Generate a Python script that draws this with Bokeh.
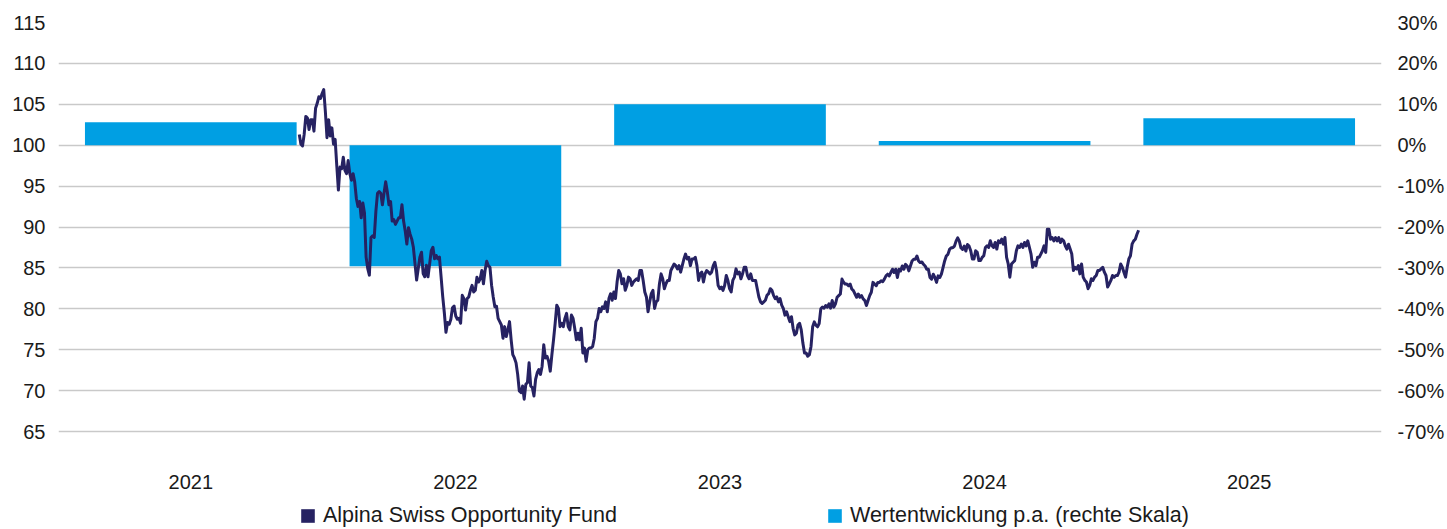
import numpy as np
from bokeh.plotting import figure
from bokeh.models import (Range1d, LinearAxis, FixedTicker, PrintfTickFormatter,
                          Legend, LegendItem)
from bokeh.core.properties import value
from bokeh.embed import file_html
from bokeh.resources import INLINE

# ---------------- data ----------------
years = ["2021", "2022", "2023", "2024", "2025"]
annual_return_pct = [5.6, -29.6, 10.0, 1.0, 6.6]

# position of the first / last fund observation on the year axis (category units)
fund_start_pos = 0.41
fund_end_pos = 3.582

fund_2021_22 = [101.32, 100.12, 99.92, 101.32, 103.52, 103.32, 101.92, 103.12, 103.12, 101.72,
                104.52, 105.12, 105.92, 105.72, 106.32, 106.8, 104.12, 100.92, 103.12, 101.12,
                102.12, 100.12, 100.72, 97.52, 94.52, 97.32, 97.12, 98.52, 96.92, 96.52,
                98.12, 96.52, 95.72, 96.52, 95.52, 93.52, 92.52, 93.12, 91.12, 92.92,
                91.72, 86.32, 84.92, 84.12, 88.72, 88.92, 88.72, 91.92, 94.12, 94.32,
                94.12, 92.72, 94.12, 95.52, 94.32, 92.72, 93.12, 90.72, 90.92, 90.32,
                90.72, 91.12, 91.12, 92.72, 90.72, 89.52, 87.92, 89.92, 89.12, 88.52,
                87.52, 85.52, 83.52, 84.92, 86.32, 86.92, 84.32, 83.92, 85.32, 83.92,
                85.52, 87.12, 87.52, 86.12, 86.52, 86.12, 86.32, 83.92, 81.52, 79.52,
                77.12, 78.32, 78.12, 78.72, 80.12, 80.32, 79.12, 78.72]
fund_2022 = [78.83, 78.23, 81.65, 81.25, 79.84, 81.25, 81.45, 82.26, 82.86, 82.06,
             82.26, 83.87, 83.27, 83.67, 84.68, 83.06, 84.68, 85.81, 85.28, 85.08,
             82.86, 81.45, 80.24, 80.32, 78.83, 78.43, 78.02, 76.41, 77.82, 76.61,
             77.42, 78.43, 76.21, 74.40, 73.99, 73.39, 71.98, 69.96, 69.76, 70.56,
             68.95, 70.77, 70.97, 73.39, 70.56, 70.36, 69.35, 71.37, 72.18, 72.58,
             71.98, 72.98, 75.60, 73.99, 74.19, 73.59, 72.38, 74.40, 76.21, 78.23,
             80.44, 80.04, 77.82, 78.23, 77.82, 78.83, 79.44, 77.82, 77.42, 79.23,
             78.83, 77.62, 76.21, 77.02, 76.21, 77.62, 74.60, 75.20, 73.59, 75.00,
             75.20, 75.20, 75.40, 76.41, 78.43, 78.83, 80.04, 79.64, 80.24, 80.04,
             80.85, 79.64, 81.25, 81.85, 81.05, 82.06, 81.25, 83.27, 84.68, 84.27,
             83.06, 83.67, 82.26, 82.86]
fund_2023 = [83.87, 83.67, 82.86, 83.27, 83.47, 83.67, 83.47, 84.68, 84.68, 83.47,
             82.06, 81.45, 79.64, 80.85, 81.85, 82.26, 80.04, 80.85, 81.05, 83.06,
             84.27, 83.67, 82.46, 83.06, 83.47, 83.47, 84.68, 85.08, 85.48, 85.28,
             84.88, 85.28, 84.48, 85.28, 86.09, 86.69, 86.09, 86.29, 85.28, 86.09,
             86.09, 86.29, 85.28, 83.47, 84.27, 84.48, 83.27, 84.27, 84.68, 84.48,
             84.27, 84.48, 85.28, 85.69, 84.68, 82.86, 82.46, 82.66, 82.26, 82.86,
             84.07, 83.47, 82.46, 82.06, 83.47, 83.87, 84.88, 84.27, 84.48, 83.67,
             84.27, 85.08, 85.08, 84.07, 83.67, 84.27, 83.47, 83.47, 83.47, 82.46,
             81.45, 80.85, 80.65, 80.85, 81.05, 81.65, 81.85, 82.46, 82.26, 81.65,
             81.25, 81.45, 80.85, 81.25, 80.44, 80.04, 79.23, 79.64, 79.03, 78.43,
             79.03, 77.62, 76.81, 77.02, 78.02, 78.23, 77.42, 75.81, 74.60, 74.60,
             74.2, 74.4, 75.4, 77.8, 78.4, 78.0, 77.8, 78.2]
fund_2023_24 = [80.0, 80.20, 80.08, 80.40, 80.20, 80.60, 80.08, 81.01, 80.20, 80.60,
                81.41, 81.61, 81.81, 83.63, 83.23, 83.02, 83.02, 82.82, 83.02, 82.42,
                82.22, 81.81, 81.41, 81.81, 81.41, 81.61, 81.21, 81.01, 80.40, 81.01,
                81.61, 82.02, 83.23, 83.02, 82.82, 83.23, 83.23, 83.43, 83.31, 83.63,
                84.03, 84.23, 84.03, 84.44, 84.84, 84.44, 84.84, 83.83, 84.84, 84.64,
                85.24, 84.84, 85.44, 85.24, 84.64, 85.24, 85.85, 86.05, 86.05, 86.45,
                85.85, 85.65, 85.73, 85.44, 85.24, 84.84, 84.84, 83.83, 83.63, 84.23,
                83.83, 83.23, 84.03, 83.83, 84.23, 85.04, 85.85, 86.45, 86.65, 87.26,
                87.46, 87.46, 87.66, 88.27, 88.67, 88.27, 87.46, 87.26, 87.66, 87.06,
                87.86, 87.66]
fund_2024 = [87.10, 86.09, 86.09, 87.10, 86.90, 85.89, 85.89, 86.29, 86.49, 87.50,
             87.70, 87.50, 88.31, 87.70, 87.50, 88.10, 87.30, 88.31, 88.10, 88.51,
             87.90, 88.71, 86.29, 85.48, 83.87, 85.48, 85.69, 85.89, 87.10, 87.70,
             87.50, 87.90, 87.50, 88.10, 87.70, 88.31, 87.50, 86.69, 85.08, 85.69,
             85.28, 86.29, 86.29, 86.69, 87.10, 87.70, 86.90, 89.72, 89.72, 88.51,
             88.71, 88.31, 88.71, 88.31, 88.71, 88.10, 88.51, 88.31, 87.70, 87.30,
             87.90, 87.30, 86.69, 84.68, 85.08, 84.88, 85.28, 84.27, 85.48, 83.87,
             83.47, 83.27, 82.46, 82.86, 83.67, 83.47, 83.87, 84.07, 84.68, 84.68,
             84.88, 85.08, 84.48, 84.07, 82.66, 83.06, 83.47, 84.07, 83.87, 84.07,
             84.07, 84.48, 85.48, 85.08, 84.48, 83.87, 85.08, 86.09, 86.49, 87.90,
             88.31, 88.51, 89.11, 89.60]

fund_index = fund_2021_22 + fund_2022 + fund_2023 + fund_2023_24 + fund_2024

left_min, left_max = 65, 115
right_min, right_max = -70, 30
left_ticks = list(range(left_min, left_max + 1, 5))
right_ticks = list(range(right_min, right_max + 1, 10))

series_names = ["Alpina Swiss Opportunity Fund", "Wertentwicklung p.a. (rechte Skala)"]

# ---------------- layout / styling ----------------
FONT = "Liberation Sans"
NAVY = "#262262"
BLUE = "#009FE3"
GRID = "#C9C9C9"
TXT = "#1a1a1a"

W, H = 1447, 529
TOP, LEFT, RIGHT = 22, 58, 66
AXIS_PX = 409                       # pixel height of the 65..115 band
FRAME_H = H - TOP                   # frame reaches to page bottom (room for labels/legend)
px_per_unit = AXIS_PX / (left_max - left_min)
frame_bottom_val = left_max - FRAME_H / px_per_unit
r_px_per_unit = AXIS_PX / (right_max - right_min)
r_frame_bottom_val = right_max - FRAME_H / r_px_per_unit
year_label_y = left_min - 50 / px_per_unit

p = figure(width=W, height=H, output_backend="svg", toolbar_location=None,
           x_range=Range1d(-0.5, 4.5), y_range=Range1d(frame_bottom_val, left_max),
           x_axis_location=None,
           min_border_left=LEFT, min_border_right=RIGHT, min_border_top=TOP, min_border_bottom=0)
p.extra_y_ranges = {"pct": Range1d(r_frame_bottom_val, right_max)}
p.outline_line_color = None
p.background_fill_color = "white"
p.border_fill_color = "white"

bars = p.vbar(x=list(range(len(years))), top=annual_return_pct, bottom=0, width=0.8,
              y_range_name="pct", fill_color=BLUE, line_color=None)

fund_x = np.linspace(fund_start_pos, fund_end_pos, len(fund_index))
line = p.line(x=fund_x, y=fund_index, line_color=NAVY, line_width=3, line_join="round")

# legend proxy (square swatch for the fund) - zero-height, invisible in the plot
proxy = p.vbar(x=[fund_x[0]], top=[fund_index[0]], bottom=[fund_index[0]], width=0.0,
               fill_color=NAVY, line_color=None)

# year labels (category axis)
p.text(x=list(range(len(years))), y=[year_label_y] * len(years), text=years,
       text_align="center", text_baseline="middle", text_font=value(FONT),
       text_font_size="20px", text_color=TXT)

# grids
p.xgrid.visible = False
p.ygrid.ticker = FixedTicker(ticks=left_ticks)
p.ygrid.grid_line_color = GRID
p.ygrid.grid_line_width = 1.3

# left axis
ya = p.yaxis[0]
ya.ticker = FixedTicker(ticks=left_ticks)
ya.axis_line_color = None
ya.major_tick_line_color = None
ya.minor_tick_line_color = None
ya.major_tick_out = 0
ya.major_label_standoff = 13
ya.major_label_text_font = FONT
ya.major_label_text_font_size = "20px"
ya.major_label_text_color = TXT

# right axis
ra = LinearAxis(y_range_name="pct", ticker=FixedTicker(ticks=right_ticks),
                formatter=PrintfTickFormatter(format="%d%%"))
ra.axis_line_color = None
ra.major_tick_line_color = None
ra.minor_tick_line_color = None
ra.major_tick_out = 0
ra.major_label_standoff = 16
ra.major_label_text_font = FONT
ra.major_label_text_font_size = "20px"
ra.major_label_text_color = TXT
p.add_layout(ra, "right")

legend = Legend(items=[LegendItem(label=series_names[0], renderers=[proxy]),
                       LegendItem(label=series_names[1], renderers=[bars])],
                orientation="horizontal", location=(241, 1))
legend.glyph_width = 17
legend.glyph_height = 17
legend.label_standoff = 7
legend.label_width = 300
legend.spacing = 203
legend.padding = 0
legend.margin = 0
legend.border_line_color = None
legend.background_fill_alpha = 0
legend.label_text_font = FONT
legend.label_text_font_size = "21.5px"
legend.label_text_color = TXT
legend.label_height = 17
p.add_layout(legend)

open("out.html", "w").write(file_html(p, INLINE))
